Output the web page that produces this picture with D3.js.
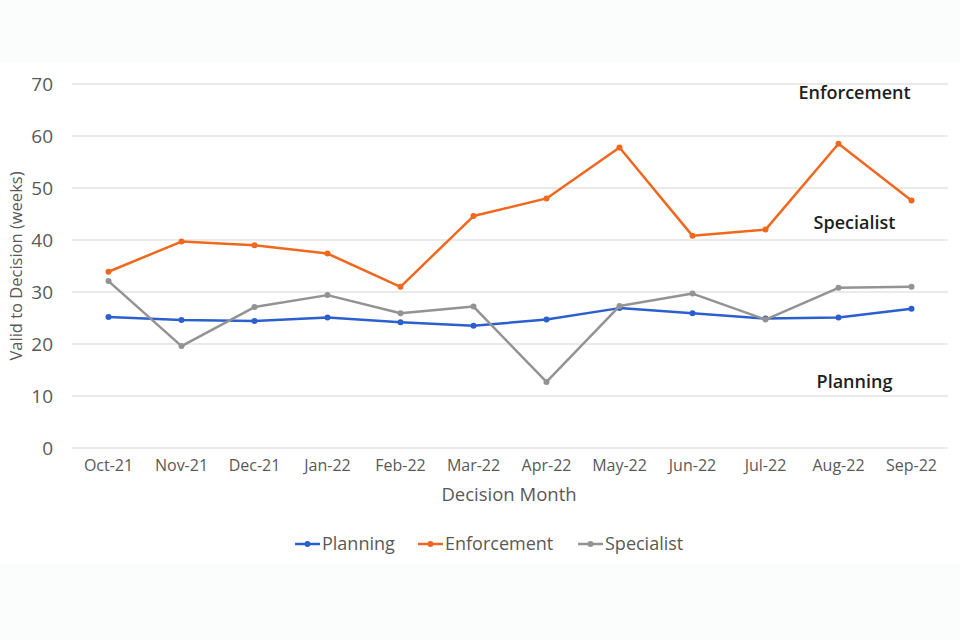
<!DOCTYPE html>
<html>
<head>
<meta charset="utf-8">
<script src="https://cdn.jsdelivr.net/npm/d3@7"></script>
<style>
  html, body { margin: 0; padding: 0; background: #fbfcfc; }
  svg { display: block; }
</style>
</head>
<body>
<svg id="chart" width="960" height="640"></svg>
<script>
"use strict";
const months = ["Oct-21", "Nov-21", "Dec-21", "Jan-22", "Feb-22", "Mar-22",
  "Apr-22", "May-22", "Jun-22", "Jul-22", "Aug-22", "Sep-22"];
const planning = [25.2, 24.6, 24.4, 25.1, 24.2, 23.5, 24.7, 26.9, 25.9, 24.9, 25.1, 26.8];
const enforcement = [33.9, 39.7, 39.0, 37.4, 31.0, 44.6, 48.0, 57.8, 40.8, 42.0, 58.5, 47.6];
const specialist = [32.1, 19.6, 27.1, 29.4, 25.9, 27.2, 12.7, 27.3, 29.7, 24.7, 30.8, 31.0];
const yTicks = [0, 10, 20, 30, 40, 50, 60, 70];
const seriesNames = ["Planning", "Enforcement", "Specialist"];
const seriesColors = ["#2c5fce", "#f0681e", "#939393"];
// side labels placed in the plot (value = y position in data units)
const sideLabels = [
  { text: "Enforcement", x: "Aug-22", v: 68 },
  { text: "Specialist", x: "Aug-22", v: 43 },
  { text: "Planning", x: "Aug-22", v: 12.4 }
];

const svg = d3.select("#chart");
const font = "'Open Sans', sans-serif";

// white chart area
svg.append("rect").attr("x", 0).attr("y", 63).attr("width", 960).attr("height", 501)
  .attr("fill", "#ffffff");

const x = d3.scaleBand().domain(months).range([72, 948]);
const y = d3.scaleLinear().domain([0, 70]).range([448, 84]);

// gridlines
svg.append("g").selectAll("line").data(yTicks).enter().append("line")
  .attr("x1", 72).attr("x2", 948)
  .attr("y1", d => y(d)).attr("y2", d => y(d))
  .style("stroke", "#e3e3e3").style("stroke-width", 1.5);

// y axis labels
const yAxis = svg.append("g").attr("transform", "translate(53,0)")
  .call(d3.axisLeft(y).tickValues(yTicks).tickSize(0).tickPadding(0));
yAxis.select(".domain").remove();
yAxis.selectAll("text").style("font-family", font).style("font-size", "19px")
  .style("fill", "#595959");

// x axis labels
const xAxis = svg.append("g").attr("transform", "translate(0,460)")
  .call(d3.axisBottom(x).tickSize(0).tickPadding(0));
xAxis.select(".domain").remove();
xAxis.selectAll("text").style("font-family", font).style("font-size", "16px")
  .style("fill", "#595959");

// axis titles
svg.append("text")
  .attr("transform", "translate(22,266) rotate(-90)")
  .attr("text-anchor", "middle")
  .style("font-family", font).style("font-size", "16.5px").style("fill", "#595959")
  .text("Valid to Decision (weeks)");
svg.append("text")
  .attr("x", 509).attr("y", 501)
  .attr("text-anchor", "middle")
  .style("font-family", font).style("font-size", "18.5px").style("fill", "#595959")
  .text("Decision Month");

// lines
const cx = m => x(m) + x.bandwidth() / 2;
const line = d3.line().x((d, i) => cx(months[i])).y(d => y(d));
const allSeries = [planning, enforcement, specialist];
const G = svg.append("g");
allSeries.forEach((vals, k) => {
  G.append("path").datum(vals)
    .attr("d", line)
    .style("fill", "none")
    .style("stroke", seriesColors[k])
    .style("stroke-width", 2.5)
    .style("stroke-linejoin", "round");
  G.append("g").selectAll("circle").data(vals).enter().append("circle")
    .attr("cx", (d, i) => cx(months[i]))
    .attr("cy", d => y(d))
    .attr("r", 3)
    .style("fill", seriesColors[k]);
});

// in-plot labels
svg.append("g").selectAll("text").data(sideLabels).enter().append("text")
  .attr("x", d => cx(d.x) + 16)
  .attr("y", d => y(d.v))
  .attr("text-anchor", "middle")
  .attr("dominant-baseline", "middle")
  .style("font-family", font).style("font-size", "18px")
  .style("font-weight", "600").style("fill", "#1e1e1e")
  .text(d => d.text);

// legend
const legendX = [295, 418, 578];
const lg = svg.append("g").selectAll("g").data(seriesNames).enter().append("g")
  .attr("transform", (d, i) => `translate(${legendX[i]},544)`);
lg.append("line").attr("x1", 0).attr("x2", 25).attr("y1", 0).attr("y2", 0)
  .style("stroke", (d, i) => seriesColors[i]).style("stroke-width", 2.5);
lg.append("circle").attr("cx", 12.5).attr("cy", 0).attr("r", 3)
  .style("fill", (d, i) => seriesColors[i]);
lg.append("text").attr("x", 27).attr("y", 1).attr("dominant-baseline", "middle")
  .style("font-family", font).style("font-size", "18px").style("fill", "#595959")
  .text(d => d);
</script>
</body>
</html>
